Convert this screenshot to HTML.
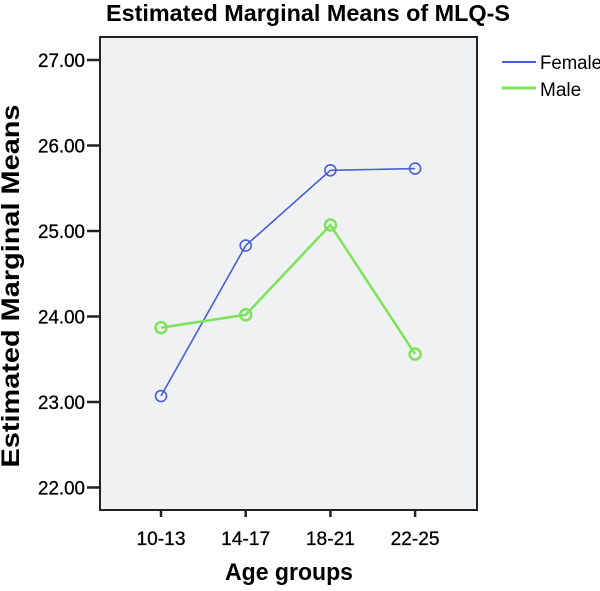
<!DOCTYPE html>
<html><head><meta charset="utf-8"><style>
body{margin:0;background:#fff;width:600px;height:586px;overflow:hidden}
svg{font-family:"Liberation Sans",sans-serif}
</style></head><body>
<svg id="c" width="600" height="586">
<text x="308" y="21" text-anchor="middle" font-size="23" font-weight="bold" textLength="404" lengthAdjust="spacingAndGlyphs">Estimated Marginal Means of MLQ-S</text>
<rect x="100" y="37" width="377" height="473" fill="#eff1f2" stroke="#222" stroke-width="2"/>
<g id="yax"></g>
<g id="xax"></g>
<text transform="translate(19,286) rotate(-90)" text-anchor="middle" font-size="25" font-weight="bold" textLength="363" lengthAdjust="spacingAndGlyphs">Estimated Marginal Means</text>
<text x="289" y="580" text-anchor="middle" font-size="24" font-weight="bold" textLength="128" lengthAdjust="spacingAndGlyphs">Age groups</text>
<g id="series"></g>
<g>
<g><line x1="502" y1="62" x2="536" y2="62" stroke="#4a5fd6" stroke-width="2"/><text x="540" y="69" font-size="19" textLength="62" lengthAdjust="spacingAndGlyphs">Female</text></g>
<g><line x1="502" y1="88" x2="536" y2="88" stroke="#7ee35a" stroke-width="3"/><text x="540" y="96" font-size="19">Male</text></g>
</g>
</svg>
<script>
const categories=["10-13","14-17","18-21","22-25"];
const female=[23.07,24.83,25.71,25.73];
const male=[23.87,24.02,25.07,23.56];
const yTicks=[22,23,24,25,26,27];
const NS="http://www.w3.org/2000/svg";
function y(v){return 402-(v-23)*85.5;}
function x(i){return 161+i*84.7;}
function mk(t,a,p){const e=document.createElementNS(NS,t);for(const k in a)e.setAttribute(k,a[k]);p.appendChild(e);return e;}
const yax=document.getElementById('yax'),xax=document.getElementById('xax'),ser=document.getElementById('series');
yTicks.forEach(v=>{
  const l=mk('line',{x1:87,x2:100,y1:y(v),y2:y(v),stroke:'#222','stroke-width':2.5},yax);
  
  
  const t=mk('text',{x:85,y:y(v)+7,'text-anchor':'end','font-size':19,textLength:47,lengthAdjust:'spacingAndGlyphs',stroke:'#000','stroke-width':0.3},yax);
  
  
  t.textContent=v.toFixed(2);
});
categories.forEach((c,i)=>{
  const l=mk('line',{x1:x(i),x2:x(i),y1:510,y2:517,stroke:'#222','stroke-width':2.5},xax);
  
  
  const t=mk('text',{x:x(i),y:545,'text-anchor':'middle','font-size':19,textLength:49,lengthAdjust:'spacingAndGlyphs',stroke:'#000','stroke-width':0.3},xax);
  
  
  t.textContent=c;
});
function draw(vals,col,w,name){
  const p=mk('polyline',{points:vals.map((v,i)=>x(i)+','+y(v)).join(' '),fill:'none',stroke:col,'stroke-width':w},ser);
  
  
  vals.forEach((v,i)=>{
    const c=mk('circle',{cx:x(i),cy:y(v),r:5.5,fill:'none',stroke:col,'stroke-width':w},ser);
    
    
  });
}
draw(female,'#4a5fd6',1.6,'female');
draw(male,'#7ee35a',2.5,'male');
</script>
</body></html>
